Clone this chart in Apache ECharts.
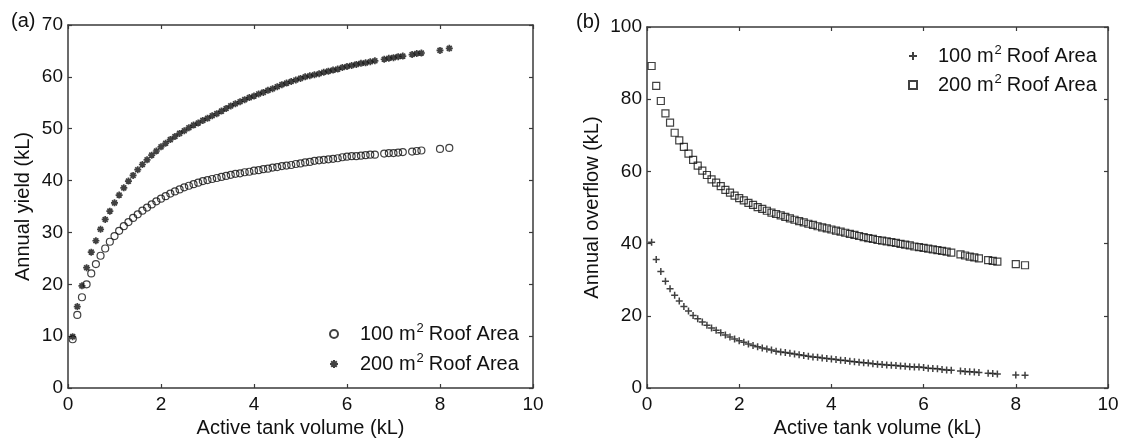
<!DOCTYPE html>
<html>
<head>
<meta charset="utf-8">
<script src="https://cdn.jsdelivr.net/npm/echarts@6/dist/echarts.min.js"></script>
<style>
html,body{margin:0;padding:0;background:#fff;}
#chart{width:1125px;height:439px;}
</style>
</head>
<body>
<div id="chart"></div>
<script>
// Active tank volume (kL)
const vol = [0.1,0.2,0.3,0.4,0.5,0.6,0.7,0.8,0.9,1.0,
  1.1,1.2,1.3,1.4,1.5,1.6,1.7,1.8,1.9,2.0,
  2.1,2.2,2.3,2.4,2.5,2.6,2.7,2.8,2.9,3.0,
  3.1,3.2,3.3,3.4,3.5,3.6,3.7,3.8,3.9,4.0,
  4.1,4.2,4.3,4.4,4.5,4.6,4.7,4.8,4.9,5.0,
  5.1,5.2,5.3,5.4,5.5,5.6,5.7,5.8,5.9,6.0,
  6.1,6.2,6.3,6.4,6.5,6.6,
  6.8,6.9,7.0,7.1,7.2,7.4,7.5,7.6,8.0,8.2];
// (a) Annual yield, 100 m2 roof
const yield100 = [9.4,14.1,17.5,20.0,22.1,23.9,25.5,26.9,28.2,29.3,
  30.3,31.2,32.0,32.8,33.5,34.2,34.8,35.4,36.0,36.5,
  37.0,37.5,37.9,38.3,38.7,39.0,39.3,39.6,39.9,40.1,
  40.3,40.5,40.7,40.9,41.1,41.3,41.4,41.6,41.7,41.9,
  42.0,42.2,42.3,42.5,42.6,42.8,42.9,43.0,43.2,43.3,
  43.5,43.6,43.8,43.9,44.0,44.1,44.2,44.3,44.5,44.6,
  44.7,44.7,44.8,44.9,45.0,45.0,
  45.2,45.3,45.3,45.4,45.5,45.6,45.7,45.8,46.1,46.3];
// (a) Annual yield, 200 m2 roof
const yield200 = [9.9,15.7,19.7,23.2,26.2,28.4,30.6,32.5,34.1,35.7,
  37.2,38.6,39.9,41.0,42.1,43.1,44.0,44.9,45.7,46.5,
  47.2,47.9,48.5,49.1,49.6,50.2,50.7,51.1,51.6,52.0,
  52.5,52.9,53.4,53.9,54.4,54.8,55.2,55.6,56.0,56.3,
  56.7,57.0,57.4,57.7,58.1,58.5,58.8,59.1,59.4,59.7,
  60.0,60.2,60.4,60.6,60.9,61.1,61.3,61.5,61.8,62.0,
  62.2,62.4,62.6,62.7,62.9,63.1,
  63.4,63.6,63.7,63.9,64.0,64.3,64.5,64.6,65.1,65.5];
// (b) Annual overflow, 100 m2 roof
const over100 = [40.4,35.6,32.3,29.6,27.5,25.7,24.1,22.6,21.3,20.1,
  19.2,18.3,17.4,16.6,16.0,15.3,14.7,14.1,13.6,13.1,
  12.7,12.2,11.8,11.4,11.1,10.8,10.5,10.2,10.0,9.8,
  9.6,9.4,9.2,9.0,8.8,8.6,8.5,8.3,8.2,8.0,
  7.9,7.7,7.6,7.4,7.3,7.1,7.0,6.9,6.7,6.6,
  6.5,6.4,6.3,6.2,6.1,6.0,5.9,5.8,5.8,5.7,
  5.5,5.4,5.3,5.1,5.0,4.9,
  4.7,4.6,4.5,4.4,4.3,4.1,4.0,3.9,3.6,3.5];
// (b) Annual overflow, 200 m2 roof
const over200 = [89.2,83.7,79.5,76.1,73.5,70.7,68.6,66.8,64.9,63.2,
  61.6,60.2,59.0,57.8,56.9,55.9,54.9,54.1,53.3,52.6,
  52.0,51.3,50.7,50.1,49.6,49.1,48.6,48.2,47.8,47.4,
  47.0,46.6,46.2,45.9,45.5,45.2,44.8,44.5,44.2,43.9,
  43.6,43.3,43.0,42.7,42.4,42.1,41.8,41.5,41.3,41.0,
  40.8,40.6,40.4,40.2,39.9,39.7,39.5,39.2,39.0,38.8,
  38.6,38.4,38.2,38.0,37.8,37.5,
  37.0,36.7,36.4,36.2,35.9,35.4,35.2,35.0,34.3,34.0];

const xTicks = [0,2,4,6,8,10];
const yTicksA = [0,10,20,30,40,50,60,70];
const yTicksB = [0,20,40,60,80,100];
const legendLabels = {
  y100: '100 m²Roof Area', y200: '200 m²Roof Area',
  o100: '100 m²Roof Area', o200: '200 m²Roof Area'
};
const xTitle = 'Active tank volume (kL)';
const yTitleA = 'Annual yield (kL)';
const yTitleB = 'Annual overflow (kL)';

const FONT = "'Liberation Sans', Arial, sans-serif";
const AX = '#3a3a3a';
const TXT = '#111';
const pairs = (ys) => vol.map((v, i) => [v, ys[i]]);

const ASTER = 'path://M0,5L10,5M5,0L5,10M1.5,1.5L8.5,8.5M8.5,1.5L1.5,8.5';
const PLUS = 'path://M0,5L10,5M5,0L5,10';

function xAx(grid, pos, show) {
  return {
    type: 'value', gridIndex: grid, position: pos, min: xTicks[0], max: xTicks[xTicks.length-1], interval: 2,
    axisLine: {show: true, onZero: false, lineStyle: {color: AX, width: 1.5}},
    axisTick: {show: true, inside: true, length: 4, lineStyle: {color: AX, width: 1.2}},
    axisLabel: {show: show, color: TXT, fontSize: 19, fontFamily: FONT, margin: 7},
    splitLine: {show: false},
    name: show ? xTitle : '', nameLocation: 'middle', nameGap: 30,
    nameTextStyle: {color: TXT, fontSize: 20, fontFamily: FONT}
  };
}
function yAx(grid, pos, show, ticks, step, title, gap) {
  return {
    type: 'value', gridIndex: grid, position: pos, min: ticks[0], max: ticks[ticks.length-1], interval: step,
    axisLine: {show: true, onZero: false, lineStyle: {color: AX, width: 1.5}},
    axisTick: {show: true, inside: true, length: 4, lineStyle: {color: AX, width: 1.2}},
    axisLabel: {show: show, color: TXT, fontSize: 19, fontFamily: FONT, margin: 5},
    splitLine: {show: false},
    name: show ? title : '', nameLocation: 'middle', nameGap: gap,
    nameTextStyle: {color: TXT, fontSize: 20, fontFamily: FONT}
  };
}

function legendRich(pad) {
  return {
    p: {fontSize: 20, fontFamily: FONT, color: TXT, lineHeight: 24, padding: [0, 0, 0, pad]},
    t: {fontSize: 20, fontFamily: FONT, color: TXT, lineHeight: 24},
    s: {fontSize: 13, fontFamily: FONT, color: TXT, verticalAlign: 'top', lineHeight: 24, padding: [0, 5, 0, 1]}
  };
}
function legFmt(name) {
  const parts = legendLabels[name].split('²');
  return '{p|' + parts[0] + '}{s|2}{t|' + parts[1] + '}';
}

const chart = echarts.init(document.getElementById('chart'), null, {renderer: 'canvas'});
chart.setOption({
  animation: false,
  backgroundColor: '#fff',
  grid: [
    {left: 68, top: 25, width: 465, height: 363, containLabel: false, outerBoundsMode: 'none'},
    {left: 647, top: 27, width: 461, height: 361, containLabel: false, outerBoundsMode: 'none'}
  ],
  xAxis: [xAx(0, 'bottom', true), xAx(1, 'bottom', true), xAx(0, 'top', false), xAx(1, 'top', false)],
  yAxis: [
    yAx(0, 'left', true, yTicksA, 10, yTitleA, 35),
    yAx(1, 'left', true, yTicksB, 20, yTitleB, 45),
    yAx(0, 'right', false, yTicksA, 10, '', 0),
    yAx(1, 'right', false, yTicksB, 20, '', 0)
  ],
  legend: [
    {data: ['y100', 'y200'], orient: 'vertical', left: 324, top: 317, itemWidth: 8, itemHeight: 8,
      itemGap: 8, formatter: legFmt, textStyle: {rich: legendRich(17)}, selectedMode: false},
    {data: ['o100', 'o200'], orient: 'vertical', left: 903, top: 39, itemWidth: 8, itemHeight: 8,
      itemGap: 7, formatter: legFmt, textStyle: {rich: legendRich(16)}, selectedMode: false}
  ],
  graphic: [
    {type: 'text', left: 11, top: 11, style: {text: '(a)', fontSize: 20, fontFamily: FONT, fill: TXT}},
    {type: 'text', left: 576, top: 12, style: {text: '(b)', fontSize: 20, fontFamily: FONT, fill: TXT}}
  ],
  series: [
    {name: 'y100', type: 'scatter', xAxisIndex: 0, yAxisIndex: 0, data: pairs(yield100),
      symbol: 'circle', symbolSize: 7,
      itemStyle: {color: 'rgba(255,255,255,0)', borderColor: '#111', borderWidth: 1.2}},
    {name: 'y200', type: 'scatter', xAxisIndex: 0, yAxisIndex: 0, data: pairs(yield200),
      symbol: ASTER, symbolSize: 7,
      itemStyle: {color: 'rgba(255,255,255,0)', borderColor: '#111', borderWidth: 1.7}},
    {name: 'o100', type: 'scatter', xAxisIndex: 1, yAxisIndex: 1, data: pairs(over100),
      symbol: PLUS, symbolSize: 7,
      itemStyle: {color: 'rgba(255,255,255,0)', borderColor: '#111', borderWidth: 1.5}},
    {name: 'o200', type: 'scatter', xAxisIndex: 1, yAxisIndex: 1, data: pairs(over200),
      symbol: 'rect', symbolSize: 7,
      itemStyle: {color: 'rgba(255,255,255,0)', borderColor: '#111', borderWidth: 1.2}}
  ]
});
</script>
</body>
</html>
